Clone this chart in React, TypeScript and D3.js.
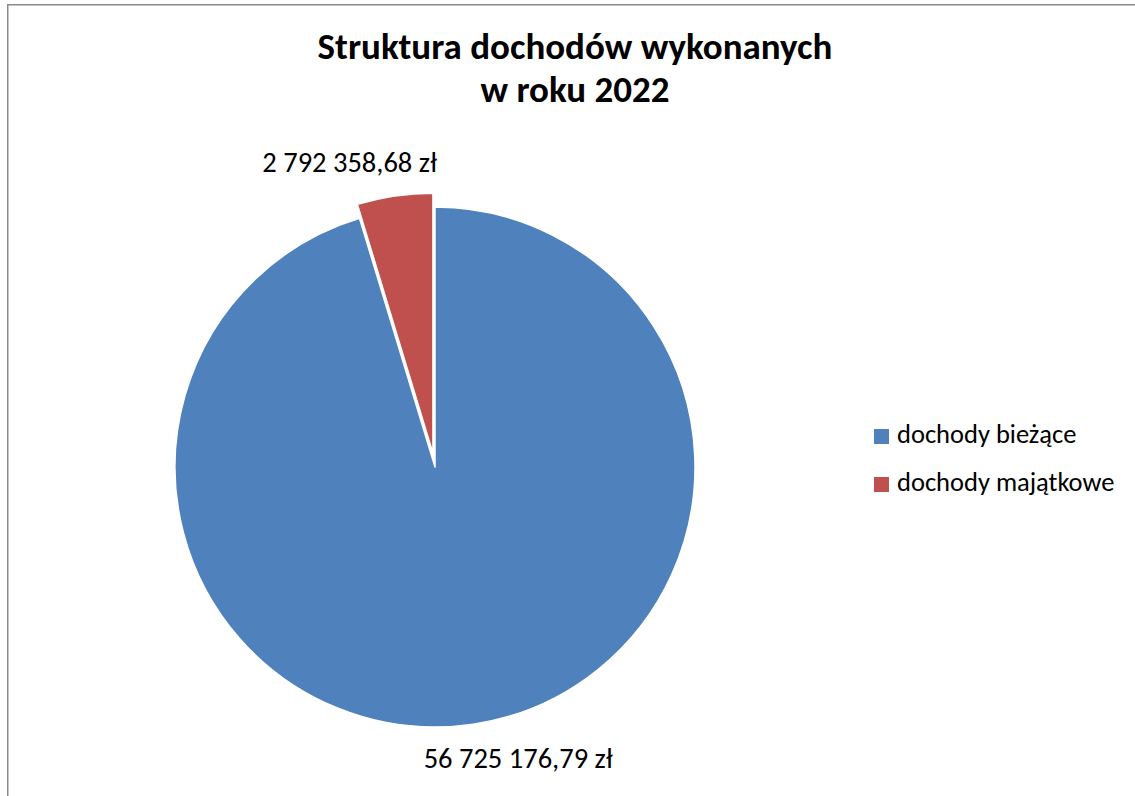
import * as d3 from 'd3'

const categories = ['dochody bieżące', 'dochody majątkowe']
const values = [56725176.79, 2792358.68]
const valueLabels = ['56 725 176,79 zł', '2 792 358,68 zł']
const colors = ['#4F81BD', '#C0504D']
const exploded = [false, true]
const titleLines = ['Struktura dochodów wykonanych', 'w roku 2022']

const WIDTH = 1135
const HEIGHT = 796
const FONT = 'Carlito, Calibri, Lato, "Open Sans", sans-serif'

const App = () => {
  const cx = 435
  const cy = 467
  const radius = 260
  const explode = 14
  const labelRadius = radius + 43
  // Excel nudges the outside labels a bit counter-clockwise of the slice middle
  const labelShift = (-7.5 * Math.PI) / 180

  const pie = d3
    .pie<number>()
    .sort(null)
    .value(d => d)
  const arcs = pie(values)

  const arc = d3
    .arc<d3.PieArcDatum<number>>()
    .innerRadius(0)
    .outerRadius(radius)

  const slices = arcs.map((a, i) => {
    const mid = (a.startAngle + a.endAngle) / 2
    const off = exploded[i] ? explode : 0
    const dx = Math.sin(mid) * off
    const dy = -Math.cos(mid) * off
    const la = mid + labelShift
    return {
      path: arc(a) as string,
      fill: colors[i],
      dx,
      dy,
      lx: cx + dx + Math.sin(la) * labelRadius,
      ly: cy + dy - Math.cos(la) * labelRadius,
      label: valueLabels[i],
    }
  })

  const legendX = 874
  const legendY = 429
  const legendStep = 48

  return (
    <svg
      width={WIDTH}
      height={HEIGHT}
      style={{ position: 'absolute', left: 0, top: 0, background: '#fff' }}
      fontFamily={FONT}
    >
      <rect x={0} y={0} width={WIDTH} height={HEIGHT} fill="#fff" />
      <line x1={7} y1={4.75} x2={WIDTH} y2={4.75} stroke="#8a8a8a" strokeWidth={1.5} />
      <line x1={7.75} y1={4} x2={7.75} y2={HEIGHT} stroke="#8a8a8a" strokeWidth={1.5} />

      {titleLines.map((t, i) => (
        <text
          key={t}
          x={575}
          y={59 + i * 43}
          textAnchor="middle"
          fontSize={37}
          fontWeight="bold"
          fill="#000"
        >
          {t}
        </text>
      ))}

      {slices.map((s, i) => (
        <path
          key={i}
          d={s.path}
          transform={`translate(${cx + s.dx},${cy + s.dy})`}
          fill={s.fill}
          stroke="#fff"
          strokeWidth={1.5}
          strokeLinejoin="round"
        />
      ))}

      {slices.map((s, i) => (
        <text
          key={`l${i}`}
          x={s.lx}
          y={s.ly}
          dy="0.35em"
          textAnchor="middle"
          fontSize={28.5}
          fill="#000"
        >
          {s.label}
        </text>
      ))}

      {categories.map((c, i) => (
        <g key={c} transform={`translate(${legendX},${legendY + i * legendStep})`}>
          <rect x={0} y={0} width={15} height={15} fill={colors[i]} />
          <text x={23} y={14} fontSize={26.5} fill="#000">
            {c}
          </text>
        </g>
      ))}
    </svg>
  )
}

export default App
